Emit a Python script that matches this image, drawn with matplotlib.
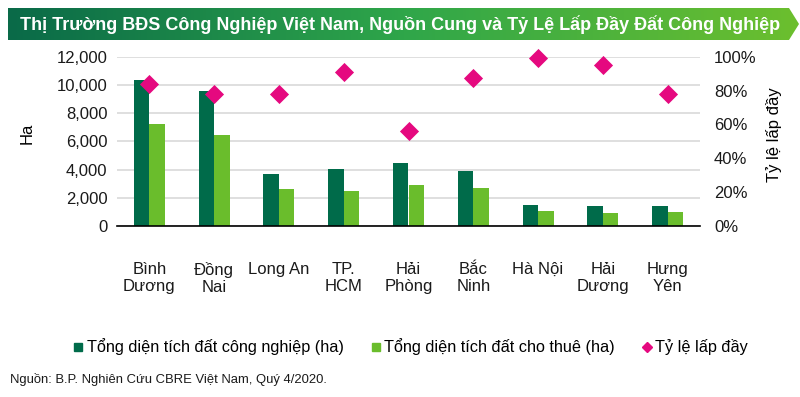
import matplotlib
matplotlib.use("Agg")
import matplotlib.pyplot as plt
import numpy as np
from matplotlib.patches import Polygon
from matplotlib.lines import Line2D
from matplotlib.ticker import FuncFormatter, PercentFormatter

plt.rcParams['font.family'] = ['Liberation Sans', 'DejaVu Sans']

# data
provinces = ["Bình\nDương", "Đồng\nNai", "Long An", "TP.\nHCM", "Hải\nPhòng",
             "Bắc\nNinh", "Hà Nội", "Hải\nDương", "Hưng\nYên"]
total_land = [10350, 9590, 3710, 4040, 4470, 3900, 1470, 1420, 1420]
leasable_land = [7210, 6450, 2650, 2500, 2930, 2720, 1085, 945, 990]
occupancy = [0.837, 0.781, 0.78, 0.911, 0.561, 0.872, 0.99, 0.95, 0.78]

title = "Thị Trường BĐS Công Nghiệp Việt Nam, Nguồn Cung và Tỷ Lệ Lấp Đầy Đất Công Nghiệp"
legend_labels = ["Tổng diện tích đất công nghiệp (ha)",
                 "Tổng diện tích đất cho thuê (ha)", "Tỷ lệ lấp đầy"]
source = "Nguồn: B.P. Nghiên Cứu CBRE Việt Nam, Quý 4/2020."

dark = "#006b4a"
light = "#6abd2c"
pink = "#e5097f"

W, H = 800, 397
fig = plt.figure(figsize=(8, 3.97), dpi=100)

# title banner with gradient + arrow tip
bax = fig.add_axes([0, 0, 1, 1])
bax.set_xlim(0, W)
bax.set_ylim(H, 0)
bax.axis("off")
grad = np.linspace(0, 1, 256).reshape(1, -1)
cmap = matplotlib.colors.LinearSegmentedColormap.from_list("g", ["#0a6a48", "#2fa64a", "#6cbf2e"])
im = bax.imshow(grad, extent=(8, 800, 40, 8), cmap=cmap, aspect="auto", zorder=1)
banner = Polygon([[8, 8], [789, 8], [799, 24], [789, 40], [8, 40]], closed=True,
                 facecolor="none", edgecolor="none", transform=bax.transData)
bax.add_patch(banner)
im.set_clip_path(banner)
bax.text(400, 24.5, title, color="white", fontsize=13, fontweight="bold",
         ha="center", va="center", zorder=3)

ax = fig.add_axes([117 / W, 1 - 226 / H, 583 / W, 169.3 / H])
x = np.arange(len(provinces))
bw = 0.24
ax.bar(x - bw / 2, total_land, bw, color=dark, zorder=2)
ax.bar(x + bw / 2, leasable_land, bw, color=light, zorder=2)
ax.set_xlim(-0.5, len(provinces) - 0.5)
ax.set_ylim(0, 12000)
ax.set_yticks(np.arange(0, 12001, 2000))
ax.yaxis.set_major_formatter(FuncFormatter(lambda v, p: f"{int(v):,}"))
ax.grid(axis="y", color="#d9d9d9", lw=1.2, zorder=0)
ax.set_axisbelow(True)
for s in ["top", "right", "left"]:
    ax.spines[s].set_visible(False)
ax.spines["bottom"].set_color("black")
ax.spines["bottom"].set_linewidth(1.2)
ax.tick_params(axis="both", length=0, labelsize=12, colors="#1a1a1a")
ax.tick_params(axis="y", pad=7)
ax.set_xticks(x)
ax.set_xticklabels(provinces, va="top", linespacing=1.15)
ax.tick_params(axis="x", pad=26)
ax.set_ylabel("Ha", fontsize=12)
ax.yaxis.set_label_coords(-0.142, 0.55)

ax2 = ax.twinx()
ax2.scatter(x, occupancy, marker="D", s=95, color=pink, zorder=3, linewidths=0, clip_on=False)
ax2.set_ylim(0, 1)
ax2.set_yticks(np.arange(0, 1.01, 0.2))
ax2.yaxis.set_major_formatter(PercentFormatter(1, decimals=0))
for s in ax2.spines.values():
    s.set_visible(False)
ax2.tick_params(axis="y", length=0, labelsize=12, colors="#1a1a1a", pad=10)
ax2.set_ylabel("Tỷ lệ lấp đầy", fontsize=12)
ax2.yaxis.set_label_coords(1.113, 0.54)

handles = [Line2D([], [], marker="s", ls="", color=dark, markersize=6),
           Line2D([], [], marker="s", ls="", color=light, markersize=6),
           Line2D([], [], marker="D", ls="", color=pink, markersize=5)]
fig.legend(handles, legend_labels, loc="center", bbox_to_anchor=(410 / W, 1 - 347 / H),
           ncol=3, frameon=False, fontsize=11.7, handletextpad=0.1, columnspacing=1.6,
           handlelength=0.8)

fig.text(10 / W, 1 - 379 / H, source, fontsize=9.4, va="center", ha="left", color="#1a1a1a")

fig.savefig("out.png", dpi=100)
